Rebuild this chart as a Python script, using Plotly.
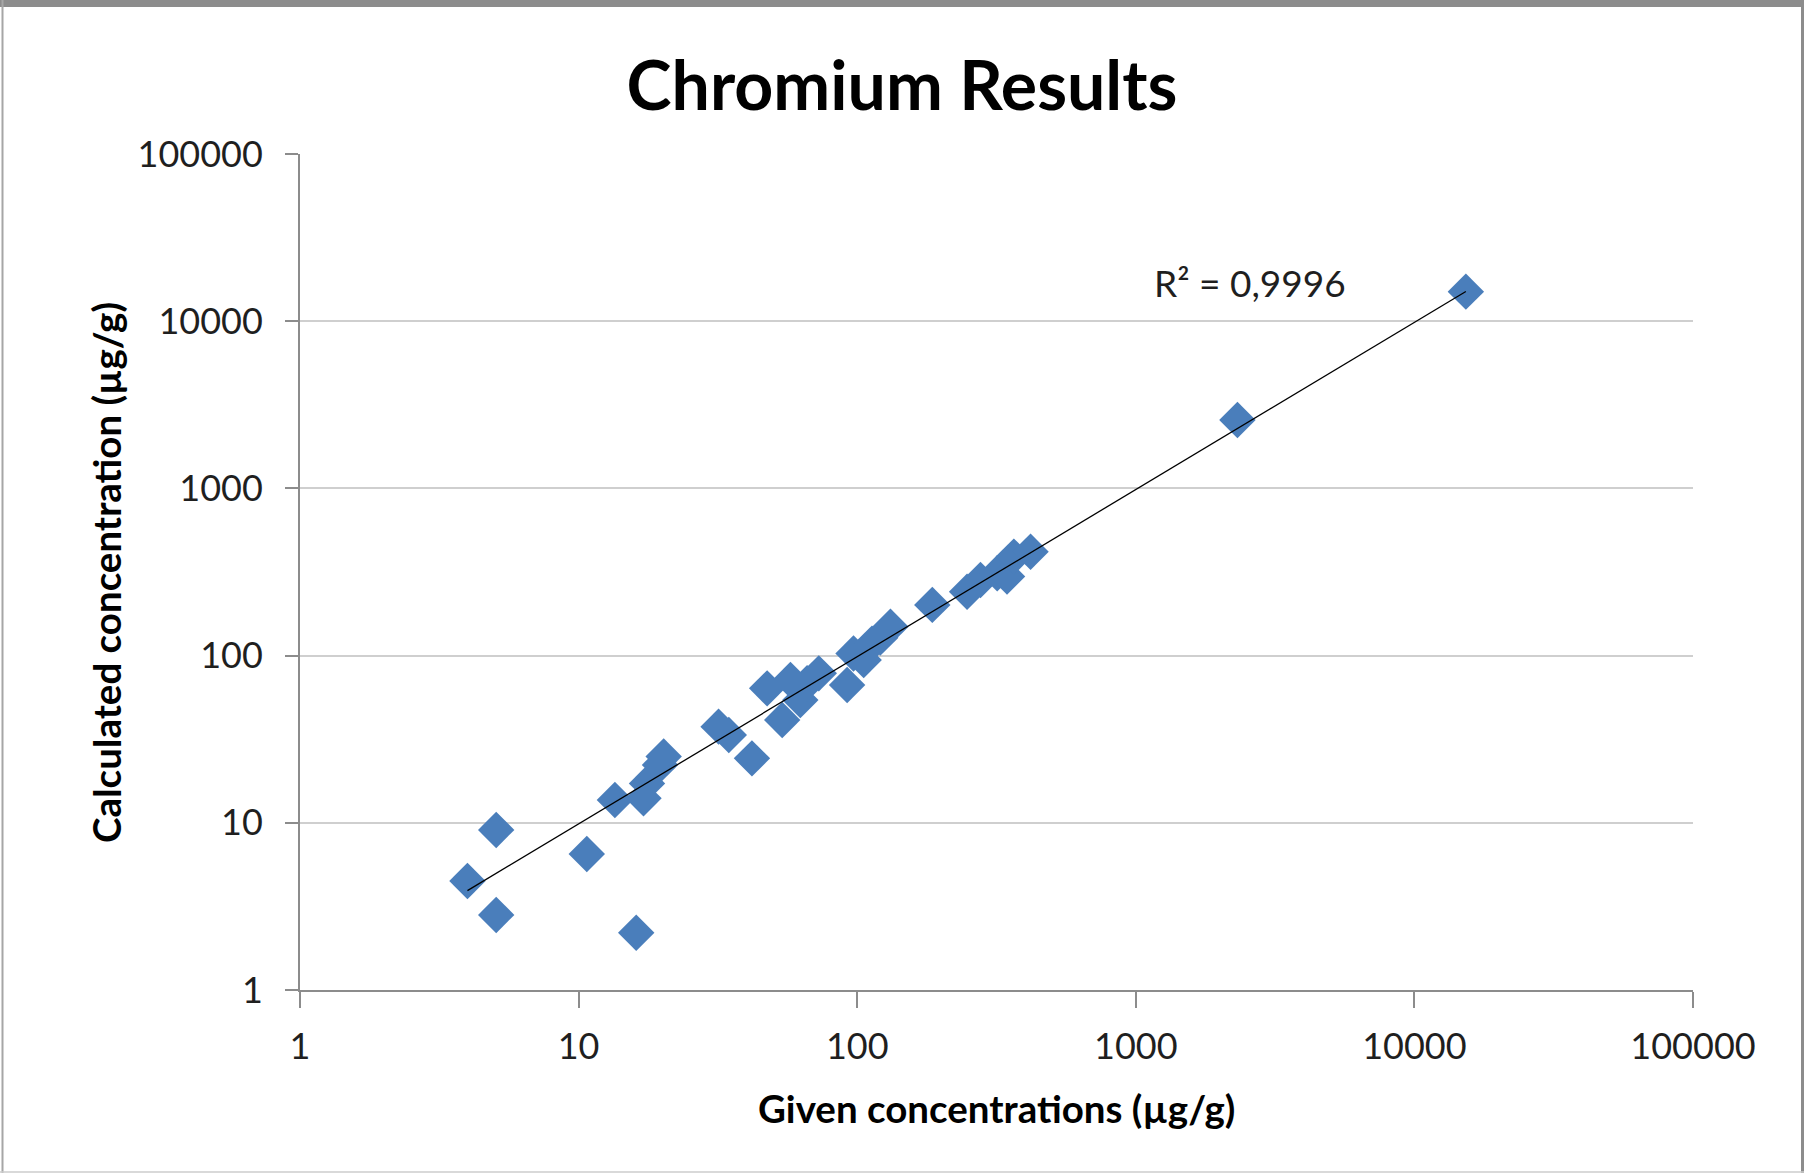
import numpy as np
import plotly.graph_objects as go

# Data (µg/g)
given = [3.99, 5.06, 5.06, 10.7, 13.5, 16.1, 17.1, 17.6, 19.6, 20.2,
         31.8, 34.6, 41.9, 47.5, 53.8, 57.6, 62.5, 66.1, 72.8, 92.0,
         97.0, 105.5, 113.0, 121.0, 131.6, 186.0, 248.0, 277.0, 318.0, 345.0,
         365.0, 419.0, 2316.0, 15300.0]
calculated = [4.49, 9.06, 2.81, 6.51, 13.7, 2.20, 14.0, 17.2, 22.2, 24.9,
              37.6, 33.5, 24.3, 63.7, 41.2, 71.5, 54.2, 68.3, 78.3, 66.7,
              103.0, 94.0, 118.0, 128.0, 149.0, 201.0, 241.0, 283.0, 311.0, 297.0,
              391.0, 418.0, 2566.0, 15020.0]

tick_vals = [1, 10, 100, 1000, 10000, 100000]
tick_text = ["1", "10", "100", "1000", "10000", "100000"]

title_text = "Chromium Results"
x_title = "Given concentrations (µg/g)"
y_title = "Calculated concentration (µg/g)"
r2_text = "R² = 0,9996"

W, H = 1804, 1173
L, R, T, B = 300, 111, 154, 183
pw, ph = W - L - R, H - T - B

FONT = "Lato"
TXT = "#1f1f1f"

# Linear trendline through the origin, drawn over the data range
gx = np.array(given)
gy = np.array(calculated)
slope = float((gx * gy).sum() / (gx * gx).sum())
tx = np.geomspace(gx.min(), gx.max(), 200)
ty = slope * tx

fig = go.Figure()
fig.add_trace(go.Scatter(
    x=given, y=calculated, mode="markers",
    marker=dict(symbol="diamond", size=28, color="#4A7EBB", line=dict(width=0)),
    showlegend=False, hoverinfo="x+y"))
fig.add_trace(go.Scatter(
    x=tx, y=ty, mode="lines", line=dict(color="black", width=1.3),
    showlegend=False, hoverinfo="skip"))

axis_common = dict(
    type="log", range=[0, 5], tickvals=tick_vals, ticktext=tick_text,
    tickfont=dict(family=FONT, size=36, color=TXT),
    showline=True, linecolor="#8c8c8c", linewidth=2,
    ticks="outside", tickcolor="#8c8c8c", tickwidth=2,
    zeroline=False, automargin=False,
)
fig.update_xaxes(**axis_common, showgrid=False, ticklen=16, ticklabelstandoff=8)
fig.update_yaxes(**axis_common, showgrid=True, gridcolor="#cfcfcf", gridwidth=2,
                 ticklen=13, ticklabelstandoff=15)

def px_x(p):
    return (p - L) / pw

def px_y(p):
    return (H - B - p) / ph

annotations = [
    dict(text=f"<b>{x_title}</b>", x=0.5, y=px_y(1108), xref="paper", yref="paper",
         showarrow=False, xanchor="center", yanchor="middle",
         font=dict(family=FONT, size=38.5, color="black")),
    dict(text=f"<b>{y_title}</b>", x=px_x(106), y=0.5, xref="paper", yref="paper",
         showarrow=False, xanchor="center", yanchor="middle", textangle=-90,
         font=dict(family=FONT, size=38.5, color="black")),
    dict(text=r2_text, x=px_x(1250), y=px_y(282), xref="paper", yref="paper",
         showarrow=False, xanchor="center", yanchor="middle",
         font=dict(family=FONT, size=37, color=TXT)),
]

shapes = [
    # outer frame
    dict(type="rect", xref="paper", yref="paper", x0=px_x(0), x1=px_x(W), y0=px_y(0), y1=px_y(7),
         fillcolor="#8c8c8c", line=dict(width=0), layer="above"),
    dict(type="line", xref="paper", yref="paper", x0=px_x(2.5), x1=px_x(2.5), y0=px_y(0), y1=px_y(H),
         line=dict(color="#a6a6a6", width=2)),
    dict(type="line", xref="paper", yref="paper", x0=px_x(1802.5), x1=px_x(1802.5), y0=px_y(0), y1=px_y(H),
         line=dict(color="#8c8c8c", width=3)),
    dict(type="line", xref="paper", yref="paper", x0=px_x(0), x1=px_x(W), y0=px_y(1172), y1=px_y(1172),
         line=dict(color="#cccccc", width=1.5)),
]

fig.update_layout(
    width=W, height=H,
    margin=dict(l=L, r=R, t=T, b=B, autoexpand=False),
    paper_bgcolor="white", plot_bgcolor="white",
    title=dict(text=f"<b>{title_text}</b>", x=0.5, xref="container", xanchor="center",
               y=1 - 86 / H, yref="container", yanchor="middle",
               font=dict(family=FONT, size=68, color="black")),
    annotations=annotations, shapes=shapes,
)

fig.write_html("out.html", config={"displayModeBar": False},
               post_script="document.body.style.margin='0';document.body.style.overflow='hidden';")
